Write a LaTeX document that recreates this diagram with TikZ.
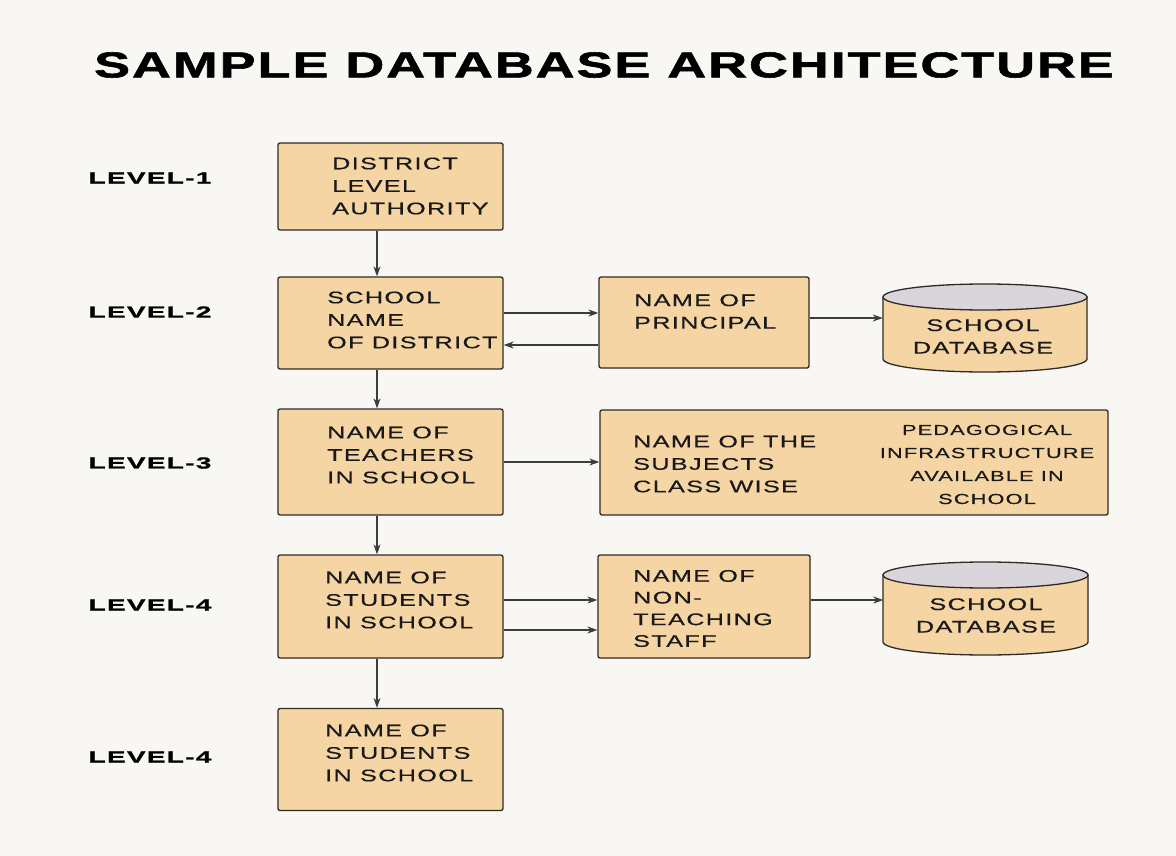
\documentclass[tikz,border=0pt]{standalone}
\usepackage{fontspec}
\setmainfont{Liberation Sans}
\newfontfamily\bxfont[FakeStretch=1.5,LetterSpace=8,FakeBold=0.4]{Liberation Sans}
\newfontfamily\titlefont[FakeStretch=1.5,LetterSpace=5.2,BoldFeatures={FakeBold=1.6}]{Liberation Sans}
\newfontfamily\lvlfont[FakeStretch=1.75,LetterSpace=8,BoldFeatures={FakeBold=1.0}]{Liberation Sans}
\usetikzlibrary{arrows.meta}

\definecolor{bgcol}{HTML}{F9F7F3}
\definecolor{boxfill}{HTML}{F5D5A3}
\definecolor{capfill}{HTML}{D9D5DA}
\definecolor{edge}{HTML}{2E2A26}
\definecolor{wire}{HTML}{3C3C3C}

% database drum: left x, right x, top-centre y, bottom-centre y, end radius
\newcommand\dbdrum[5]{%
  \filldraw[fill=boxfill, draw=edge, line width=1.3pt]
    (#1,-#3) -- (#1,-#4)
    arc[start angle=180, end angle=360, x radius={(#2-#1)/2}, y radius=#5]
    -- (#2,-#3) -- cycle;
  \filldraw[fill=capfill, draw=edge, line width=1.3pt]
    ({(#1+#2)/2},-#3) ellipse[x radius={(#2-#1)/2}, y radius=#5];
}

\begin{document}
\begin{tikzpicture}[x=1pt, y=1pt,
  box/.style={draw=edge, fill=boxfill, line width=1.3pt, rounded corners=2pt, inner sep=0pt},
  txt/.style={font=\bxfont\fontsize{16.8}{22.5}\selectfont, align=left, inner sep=0pt, text=black!90},
  ctxt/.style={txt, align=center},
  small/.style={font=\bxfont\fontsize{14.5}{23}\selectfont, align=center, inner sep=0pt, text=black!90},
  lvl/.style={font=\lvlfont\bfseries\fontsize{16}{18}\selectfont, inner sep=0pt},
  drum/.style={inner sep=0pt, minimum width=204, minimum height=75},
  link/.style={draw=wire, line width=1.2pt, -{Stealth[length=10pt,width=7pt]}}
]
\fill[bgcol] (0,0) rectangle (1176,-856);
\useasboundingbox (0,0) rectangle (1176,-856);

% heading
\node[font=\titlefont\bfseries\fontsize{36}{40}\selectfont, inner sep=0pt] (title) at (604,-65) {SAMPLE DATABASE ARCHITECTURE};

% level captions
\node[lvl] (l1) at (150,-178) {LEVEL-1};
\node[lvl] (l2) at (150,-312) {LEVEL-2};
\node[lvl] (l3) at (150,-463) {LEVEL-3};
\node[lvl] (l4) at (150,-605) {LEVEL-4};
\node[lvl] (l5) at (150,-757) {LEVEL-4};

% main column
\node[box, minimum width=225, minimum height=87] (b1) at (390.5,-186.5) {};
\node[txt, anchor=west] (t1) at (332,-186) {DISTRICT\\LEVEL\\AUTHORITY};

\node[box, minimum width=225, minimum height=92] (b2) at (390.5,-323) {};
\node[txt, anchor=west] (t2) at (327,-320) {SCHOOL\\NAME\\OF DISTRICT};

\node[box, minimum width=225, minimum height=106] (b3) at (390.5,-462) {};
\node[txt, anchor=west] (t3) at (327,-455) {NAME OF\\TEACHERS\\IN SCHOOL};

\node[box, minimum width=225, minimum height=103] (b4) at (390.5,-606.5) {};
\node[txt, anchor=west] (t4) at (325,-600) {NAME OF\\STUDENTS\\IN SCHOOL};

\node[box, minimum width=225, minimum height=102] (b5) at (390.5,-759.5) {};
\node[txt, anchor=west] (t5) at (325,-753) {NAME OF\\STUDENTS\\IN SCHOOL};

% second column
\node[box, minimum width=210, minimum height=91] (p) at (704,-322.5) {};
\node[txt, anchor=west] (tp) at (634,-311.5) {NAME OF\\PRINCIPAL};

\node[box, minimum width=508, minimum height=105] (s) at (854,-462.5) {};
\node[txt, anchor=west] (ts) at (633,-464) {NAME OF THE\\SUBJECTS\\CLASS WISE};
\node[small] (tpi) at (987,-464.5) {PEDAGOGICAL\\INFRASTRUCTURE\\AVAILABLE IN\\SCHOOL};

\node[box, minimum width=212, minimum height=103] (nt) at (704,-606.5) {};
\node[txt, anchor=west, font=\bxfont\fontsize{16.8}{21.7}\selectfont] (tnt) at (633,-608.5) {NAME OF\\NON-\\TEACHING\\STAFF};

% databases
\dbdrum{883}{1087}{297}{359}{13}
\node[drum] (db1) at (985,-328) {};
\node[ctxt] (tdb1) at (983,-336.5) {SCHOOL\\DATABASE};

\dbdrum{883}{1088}{575}{642}{13}
\node[drum] (db2) at (985.5,-608) {};
\node[ctxt] (tdb2) at (986,-615.5) {SCHOOL\\DATABASE};

% connector end points
\coordinate (pout) at ([yshift=4.5]p.east);
\coordinate (ntout) at ([yshift=6.5]nt.east);

% connectors
\draw[link] ([xshift=-13.5]b1.south) -- ([xshift=-13.5]b2.north);
\draw[link] ([xshift=-13.5]b2.south) -- ([xshift=-13.5]b3.north);
\draw[link] ([xshift=-13.5]b3.south) -- ([xshift=-13.5]b4.north);
\draw[link] ([xshift=-13.5]b4.south) -- ([xshift=-13.5]b5.north);

\draw[link] ([yshift=10]b2.east) -- ([yshift=9.5]p.west);
\draw[link] ([yshift=-22.5]p.west) -- ([yshift=-22]b2.east);
\draw[link] (pout) -- (db1.west |- pout);

\draw[link] (b3.east) -- (s.west |- b3.east);

\draw[link] ([yshift=6.5]b4.east) -- ([yshift=6.5]nt.west);
\draw[link] ([yshift=-23.5]b4.east) -- ([yshift=-23.5]nt.west);
\draw[link] (ntout) -- (db2.west |- ntout);
\end{tikzpicture}
\end{document}
